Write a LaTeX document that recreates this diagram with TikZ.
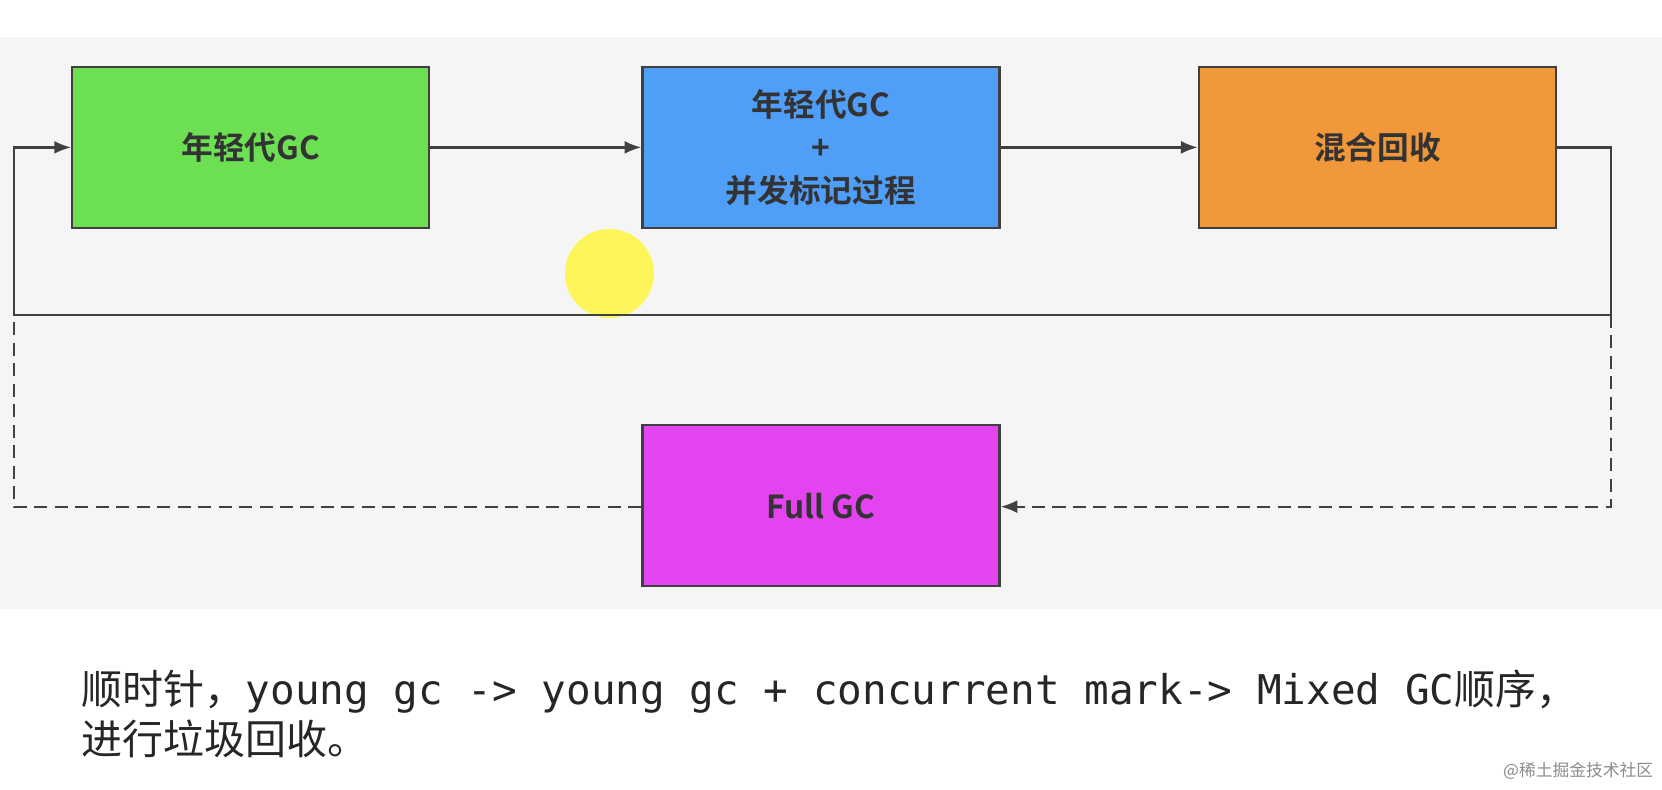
\documentclass[tikz,border=0pt]{standalone}
\usepackage{fontspec}
\newfontfamily\cjk{Noto Sans CJK SC}
\newfontfamily\cjkb{Noto Sans CJK SC Bold}
\newfontfamily\monof{DejaVu Sans Mono}
\usetikzlibrary{arrows.meta}
\definecolor{gA}{HTML}{6CDF52}
\definecolor{bA}{HTML}{4F9EF8}
\definecolor{oA}{HTML}{F0983A}
\definecolor{mA}{HTML}{E444F0}
\definecolor{txt}{HTML}{333333}
\begin{document}
\begin{tikzpicture}[x=0.02cm,y=-0.02cm,
 box/.style={draw=black!75,line width=1.2pt,minimum width=6.74cm,minimum height=3.04cm,anchor=north west,inner sep=0,align=center,font=\cjkb\fontsize{17}{23}\selectfont,text=txt},
 ln/.style={line width=1.2pt,draw=black!75},
 dsh/.style={dash pattern=on 7pt off 4pt},
 ar/.style={ln,-{Latex[length=9pt,width=7pt]}}]
\useasboundingbox (0,0) rectangle (1568,745);
\fill[white] (0,0) rectangle (1568,745);
\fill[black!4] (0,35) rectangle (1568,575);
\fill[yellow!80!white,opacity=0.8] (575,258) circle (42);
\node[box,fill=gA] (g) at (67,62) {年轻代GC};
\node[box,fill=bA] (b) at (605,62) {年轻代GC\\+\\并发标记过程};
\node[box,fill=oA] (o) at (1130,62) {混合回收};
\node[box,fill=mA] (f) at (605,400) {Full GC};
\coordinate (tr) at (1520,297);
\coordinate (tl) at (13,297);
\draw[ar] (g) -- (b);
\draw[ar] (b) -- (o);
\draw[ar] (o.east) -| (tr) -- (tl) |- (g.west);
\draw[ar,dsh] (tr) |- (f.east|-0,478);
\draw[ln,dsh] (f.west|-0,478) -| (tl);
\node[anchor=west,inner sep=0,text=black!85,font=\fontsize{22}{30}\selectfont] (t1) at (77,652) {\cjk 顺时针，\monof young gc -> young gc + concurrent mark-> Mixed GC\cjk 顺序，};
\node[anchor=west,inner sep=0,text=black!85,font=\cjk\fontsize{22}{30}\selectfont] (t2) at (77,697) {进行垃圾回收。};
\node[anchor=east,inner sep=0,text=black!45,font=\cjk\fontsize{9}{12}\selectfont] (w) at (1560,727) {@稀土掘金技术社区};
\end{tikzpicture}
\end{document}
